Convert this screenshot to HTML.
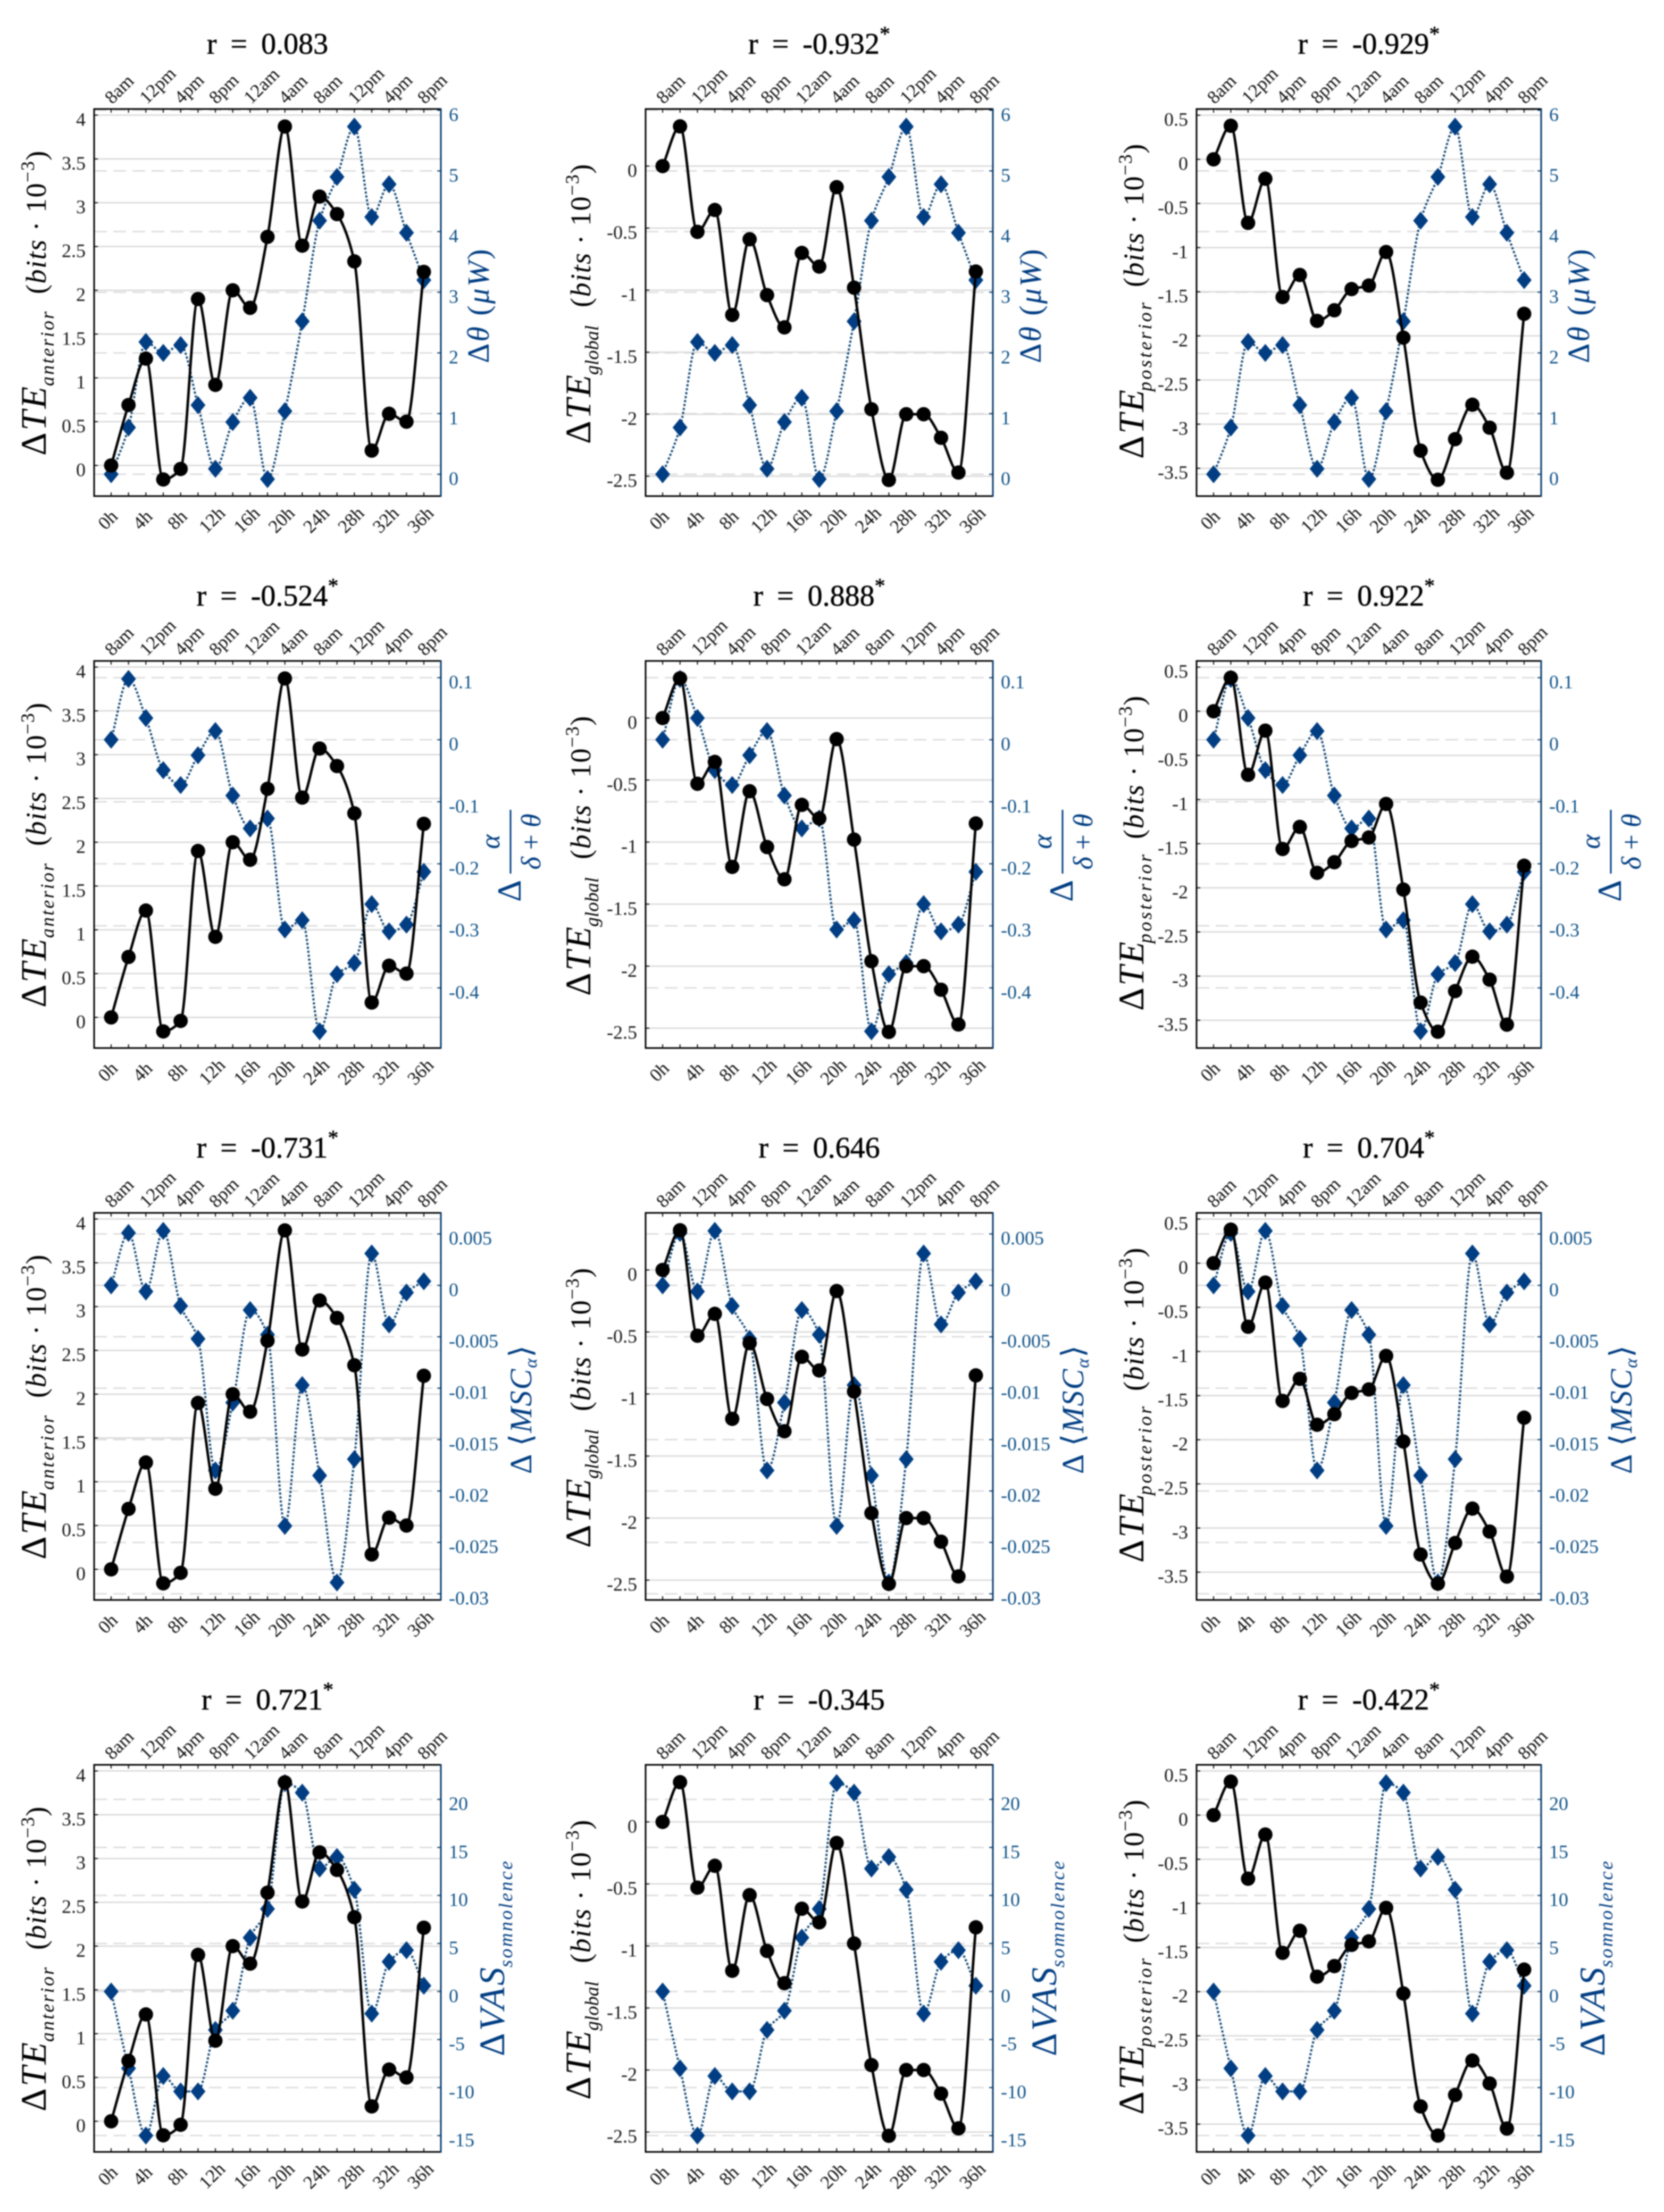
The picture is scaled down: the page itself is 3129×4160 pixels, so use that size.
<!DOCTYPE html>
<html lang="en">
<head>
<meta charset="utf-8">
<title>Transfer entropy correlations over 36 hours</title>
<style>
html,body{margin:0;padding:0;background:#fff;width:3129px;height:4160px;overflow:hidden}
svg{display:block;filter:blur(1.2px)}
text{font-family:"Liberation Serif","DejaVu Serif",serif}
</style>
</head>
<body>
<svg id="figure" xmlns="http://www.w3.org/2000/svg" width="3129" height="4160" viewBox="0 0 3129 4160"></svg>
<script>
const hourLabels = ['0h','2h','4h','6h','8h','10h','12h','14h','16h','18h','20h','22h','24h','26h','28h','30h','32h','34h','36h'];
const clockLabels = ['8am','10am','12pm','2pm','4pm','6pm','8pm','10pm','12am','2am','4am','6am','8am','10am','12pm','2pm','4pm','6pm','8pm'];

const teAnterior = [0,0.69,1.22,-0.16,-0.04,1.90,0.92,2.0,1.80,2.61,3.87,2.51,3.07,2.87,2.33,0.17,0.59,0.5,2.21];
const teGlobal = [0,0.32,-0.53,-0.354,-1.2,-0.59,-1.04,-1.3,-0.70,-0.81,-0.17,-0.98,-1.96,-2.53,-2.0,-2.0,-2.19,-2.47,-0.85];
const tePosterior = [0,0.38,-0.72,-0.22,-1.56,-1.31,-1.83,-1.71,-1.47,-1.43,-1.05,-2.02,-3.3,-3.63,-3.17,-2.78,-3.04,-3.55,-1.75];

const theta = [0,0.77,2.18,2.0,2.13,1.14,0.09,0.86,1.26,-0.08,1.04,2.52,4.18,4.9,5.73,4.24,4.78,3.98,3.2];
const ratio = [0,0.098,0.035,-0.049,-0.073,-0.025,0.014,-0.09,-0.143,-0.127,-0.306,-0.291,-0.47,-0.378,-0.36,-0.265,-0.309,-0.298,-0.213];
const msc = [0,0.0051,-0.0006,0.0053,-0.002,-0.0052,-0.018,-0.0114,-0.0024,-0.0048,-0.0234,-0.0097,-0.0185,-0.0289,-0.0169,0.0031,-0.0038,-0.0007,0.0004];
const vas = [0,-8,-15,-8.8,-10.4,-10.4,-4,-2,5.6,8.6,21.7,20.7,12.8,14,10.6,-2.3,3.1,4.3,0.6];

const anteriorTicks = ['0','0.5','1','1.5','2','2.5','3','3.5','4'];
const globalTicks = ['-2.5','-2','-1.5','-1','-0.5','0'];
const posteriorTicks = ['-3.5','-3','-2.5','-2','-1.5','-1','-0.5','0','0.5'];
const thetaTicks = ['0','1','2','3','4','5','6'];
const ratioTicks = ['-0.4','-0.3','-0.2','-0.1','0','0.1'];
const mscTicks = ['-0.03','-0.025','-0.02','-0.015','-0.01','-0.005','0','0.005'];
const vasTicks = ['-15','-10','-5','0','5','10','15','20'];

const titlesRow1 = ['r = 0.083','r = -0.932*','r = -0.929*'];
const titlesRow2 = ['r = -0.524*','r = 0.888*','r = 0.922*'];
const titlesRow3 = ['r = -0.731*','r = 0.646','r = 0.704*'];
const titlesRow4 = ['r = 0.721*','r = -0.345','r = -0.422*'];

const leftMetrics = [
  {key:'anterior', sub:'anterior', series:teAnterior, ticks:anteriorTicks, lo:-0.35, hi:4.07, base:-91, s0:76, s1:207, subLen:140, p0:380},
  {key:'global', sub:'global', series:teGlobal, ticks:globalTicks, lo:-2.66, hi:0.46, base:-104, s0:98, s1:228, subLen:93, p0:355},
  {key:'posterior', sub:'posterior', series:tePosterior, ticks:posteriorTicks, lo:-3.815, hi:0.57, base:-100, s0:70, s1:197, subLen:167, p0:393}
];
const rightMetrics = [
  {key:'theta', series:theta, ticks:thetaTicks, lo:-0.36, hi:6.02, titles:titlesRow1},
  {key:'ratio', series:ratio, ticks:ratioTicks, lo:-0.497, hi:0.127, titles:titlesRow2},
  {key:'msc', series:msc, ticks:mscTicks, lo:-0.0306, hi:0.00705, titles:titlesRow3},
  {key:'vas', series:vas, ticks:vasTicks, lo:-16.7, hi:23.6, titles:titlesRow4}
];

const colLeft = [177,1214,2250];
const colWidth = [652,653,648];
const rowTop = [205,1243,2281,3319];
const panelHeight = 728;
const BLUE = '#003d82';
const NAVY = '#04386b';
const TICKBLUE = '#0f5288';
const DOT = '#0e4676';
const svg = document.getElementById('figure');
const NS = 'http://www.w3.org/2000/svg';

function add(parent, tag, props, txt) {
  const node = document.createElementNS(NS, tag);
  for (const k in props) node.setAttribute(k, props[k]);
  if (txt !== undefined) node.textContent = txt;
  parent.appendChild(node);
  return node;
}

function tspan(parent, txt, style, dy) {
  const t = document.createElementNS(NS, 'tspan');
  if (style) t.setAttribute('style', style);
  if (dy) t.setAttribute('dy', dy);
  t.textContent = txt;
  parent.appendChild(t);
  return t;
}

function monotonePath(xs, ys) {
  const n = xs.length, d = [], m = [];
  for (let i = 0; i < n - 1; i++) d.push((ys[i + 1] - ys[i]) / (xs[i + 1] - xs[i]));
  m.push(d[0]);
  for (let i = 1; i < n - 1; i++) m.push(d[i - 1] * d[i] <= 0 ? 0 : 2 * d[i - 1] * d[i] / (d[i - 1] + d[i]));
  m.push(d[n - 2]);
  let p = 'M' + xs[0].toFixed(1) + ' ' + ys[0].toFixed(1);
  for (let i = 0; i < n - 1; i++) {
    const h = (xs[i + 1] - xs[i]) / 3;
    p += 'C' + (xs[i] + h).toFixed(1) + ' ' + (ys[i] + m[i] * h).toFixed(1) + ' ' +
         (xs[i + 1] - h).toFixed(1) + ' ' + (ys[i + 1] - m[i + 1] * h).toFixed(1) + ' ' +
         xs[i + 1].toFixed(1) + ' ' + ys[i + 1].toFixed(1);
  }
  return p;
}

function drawLeftLabel(g, L, left, bottom) {
  const holder = add(g, 'g', {transform: 'translate(' + (left + L.base) + ' ' + bottom + ') rotate(-90)'});
  
  
  const a = add(holder, 'text', {x: L.s0, y: 0, 'font-size': 68, textLength: 130, lengthAdjust: 'spacing', fill: '#000'});
  tspan(a, '\u0394');
  tspan(a, 'TE', 'font-style:italic');
  add(holder, 'text', {x: L.s1, y: 15, 'font-size': 36, 'font-style': 'italic', textLength: L.subLen, lengthAdjust: 'spacing', fill: '#000'}, L.sub);
  const b = add(holder, 'text', {x: L.p0, y: 0, 'font-size': 54, 'letter-spacing': 1.5, fill: '#000'});
  tspan(b, '(');
  tspan(b, 'bits', 'font-style:italic');
  tspan(b, ' \u00b7 10');
  tspan(b, '\u22123', 'font-size:36px', -22);
  tspan(b, ')', '', 22);
}

function drawRightLabel(g, key, right, bottom) {
  if (key === 'theta') {
    const h = add(g, 'g', {transform: 'translate(' + (right + 90) + ' ' + bottom + ') rotate(-90)'});
    
    
    const t = add(h, 'text', {x: 250, y: 0, 'font-size': 58, 'letter-spacing': 3, fill: BLUE});
    tspan(t, '\u0394');
    tspan(t, '\u03b8', 'font-style:italic');
    tspan(t, ' (');
    tspan(t, '\u03bcW', 'font-style:italic');
    tspan(t, ')');
  } else if (key === 'ratio') {
    const h = add(g, 'g', {transform: 'translate(' + right + ' ' + bottom + ') rotate(-90)'});
    
    
    add(h, 'text', {x: 275, y: 150, 'font-size': 64, fill: BLUE}, '\u0394');
    add(h, 'line', {x1: 328, x2: 448, y1: 131, y2: 131, stroke: BLUE, 'stroke-width': 3});
    add(h, 'text', {x: 388, y: 110, 'font-size': 52, 'font-style': 'italic', 'text-anchor': 'middle', fill: BLUE}, '\u03b1');
    const t = add(h, 'text', {x: 388, y: 187, 'font-size': 52, 'text-anchor': 'middle', fill: BLUE});
    tspan(t, '\u03b4', 'font-style:italic');
    tspan(t, ' + ');
    tspan(t, '\u03b8', 'font-style:italic');
  } else if (key === 'msc') {
    const h = add(g, 'g', {transform: 'translate(' + (right + 170) + ' ' + bottom + ') rotate(-90)'});
    
    
    const t = add(h, 'text', {x: 237, y: 0, 'font-size': 58, 'letter-spacing': 2, fill: BLUE});
    tspan(t, '\u0394 \u27e8');
    tspan(t, 'MSC', 'font-style:italic');
    tspan(t, '\u03b1', 'font-style:italic;font-size:34px', 10);
    tspan(t, '\u27e9', '', -10);
  } else {
    const h = add(g, 'g', {transform: 'translate(' + (right + 119) + ' ' + bottom + ') rotate(-90)'});
    
    
    const t = add(h, 'text', {x: 180, y: 0, 'font-size': 68, textLength: 167, lengthAdjust: 'spacing', fill: BLUE});
    tspan(t, '\u0394');
    tspan(t, 'VAS', 'font-style:italic');
    add(h, 'text', {x: 347, y: 15, 'font-size': 36, 'font-style': 'italic', textLength: 200, lengthAdjust: 'spacing', fill: BLUE}, 'somnolence');
  }
}

rightMetrics.forEach((R, ri) => {
  leftMetrics.forEach((L, ci) => {
    const left = colLeft[ci], w = colWidth[ci], top = rowTop[ri], h = panelHeight;
    const right = left + w, bottom = top + h;
    const x = i => left + 32 + i * (w - 64) / (hourLabels.length - 1);
    const yL = v => bottom - (v - L.lo) / (L.hi - L.lo) * h;
    const yR = v => bottom - (v - R.lo) / (R.hi - R.lo) * h;

    const g = add(svg, 'g', {});
    
    

    L.ticks.forEach(t => {
      const el = add(g, 'line', {x1: left, x2: right, y1: yL(+t), y2: yL(+t), stroke: '#d8d8d8', 'stroke-width': 2.5});
      
      
    });
    R.ticks.forEach(t => {
      const el = add(g, 'line', {x1: left, x2: right, y1: yR(+t), y2: yR(+t), stroke: '#dadada', 'stroke-width': 2.5, 'stroke-dasharray': '24 12'});
      
      
    });

    hourLabels.forEach((lab, i) => {
      const tickB = add(g, 'line', {x1: x(i), x2: x(i), y1: bottom, y2: bottom - 7, stroke: '#111', 'stroke-width': 2});
      
      
      const tickT = add(g, 'line', {x1: x(i), x2: x(i), y1: top, y2: top + 7, stroke: '#111', 'stroke-width': 2});
      
      
      if (i % 2 === 0) {
        const b = add(g, 'text', {'font-size': 35, 'text-anchor': 'middle', fill: '#111',
          transform: 'translate(' + (x(i) - 6) + ' ' + (bottom + 45) + ') rotate(-45)', y: 11}, lab);
        
        
        const c = add(g, 'text', {'font-size': 35, fill: '#111',
          transform: 'translate(' + (x(i) + 2) + ' ' + (top - 8) + ') rotate(-45)'}, clockLabels[i]);
        
        
      }
    });

    L.ticks.forEach(t => {
      const tk = add(g, 'line', {x1: left, x2: left + 7, y1: yL(+t), y2: yL(+t), stroke: '#111', 'stroke-width': 2});
      
      
      const lb = add(g, 'text', {x: left - 16, y: yL(+t) + 20, 'font-size': 36, 'text-anchor': 'end', fill: '#1a1a1a'}, t);
      
      
    });
    R.ticks.forEach(t => {
      const tk = add(g, 'line', {x1: right, x2: right - 7, y1: yR(+t), y2: yR(+t), stroke: NAVY, 'stroke-width': 2});
      
      
      const lb = add(g, 'text', {x: right + 15, y: yR(+t) + 20, 'font-size': 36, fill: TICKBLUE}, t);
      
      
    });

    const xs = R.series.map((_, i) => x(i));
    const dotted = add(g, 'path', {d: monotonePath(xs, R.series.map(yR)), fill: 'none', stroke: DOT, 'stroke-width': 4, 'stroke-dasharray': '4 3.5'});
    
    
    R.series.forEach((v, i) => {
      const cx = x(i), cy = yR(v);
      const d = add(g, 'polygon', {points: cx + ',' + (cy - 17) + ' ' + (cx + 14) + ',' + cy + ' ' + cx + ',' + (cy + 17) + ' ' + (cx - 14) + ',' + cy, fill: BLUE});
      
      
    });

    const solid = add(g, 'path', {d: monotonePath(xs, L.series.map(yL)), fill: 'none', stroke: '#000', 'stroke-width': 4.8});
    
    
    L.series.forEach((v, i) => {
      const c = add(g, 'circle', {cx: x(i), cy: yL(v), r: 13.5, fill: '#000'});
      
      
    });

    const sp1 = add(g, 'path', {d: 'M' + right + ' ' + top + 'H' + left + 'V' + bottom + 'H' + right, fill: 'none', stroke: '#000', 'stroke-width': 3});
    
    
    const sp2 = add(g, 'line', {x1: right, x2: right, y1: top - 1.5, y2: bottom + 1.5, stroke: NAVY, 'stroke-width': 3});
    
    

    drawLeftLabel(g, L, left, bottom);
    drawRightLabel(g, R.key, right, bottom);

    const raw = R.titles[ci];
    const star = raw.endsWith('*');
    const body = star ? raw.slice(0, -1) : raw;
    const title = add(g, 'text', {x: left + w / 2, y: top - 104, 'font-size': 56, 'text-anchor': 'middle', 'word-spacing': 12, fill: '#000', stroke: '#000', 'stroke-width': 0.6});
    
    
    tspan(title, body);
    if (star) {
      tspan(title, '*', 'font-size:40px', -24);
    }
  });
});
</script>
</body>
</html>
